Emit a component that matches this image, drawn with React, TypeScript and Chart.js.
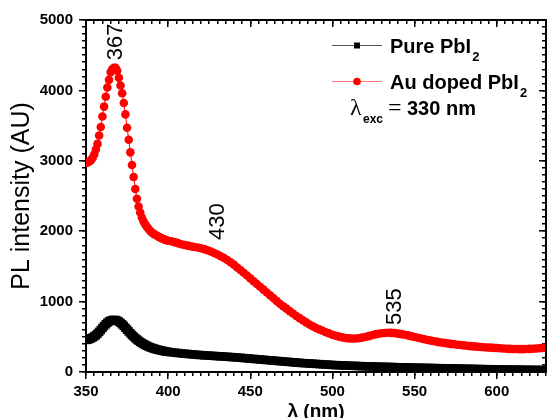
import { useEffect, useRef } from "react";
import { Chart, registerables } from "chart.js";

Chart.register(...registerables);

// Wavelength (nm)
const WAVELENGTH = [
  350, 351, 352, 353, 354, 355, 356, 357, 358, 359,
  360, 361, 362, 363, 364, 365, 366, 367, 368, 369,
  370, 371, 372, 373, 374, 375, 376, 377, 378, 379,
  380, 381, 382, 383, 384, 385, 386, 387, 388, 389,
  390, 391, 392, 393, 394, 395, 396, 397, 398, 399,
  400,
  402, 404, 406, 408, 410, 412, 414, 416, 418, 420,
  422, 424, 426, 428, 430, 432, 434, 436, 438, 440,
  442, 444, 446, 448, 450, 452, 454, 456, 458, 460,
  462, 464, 466, 468, 470, 472, 474, 476, 478, 480,
  482, 484, 486, 488, 490, 492, 494, 496, 498, 500,
  502, 504, 506, 508, 510, 512, 514, 516, 518, 520,
  522, 524, 526, 528, 530, 532, 534, 536, 538, 540,
  542, 544, 546, 548, 550, 552, 554, 556, 558, 560,
  562, 564, 566, 568, 570, 572, 574, 576, 578, 580,
  582, 584, 586, 588, 590, 592, 594, 596, 598, 600,
  602, 604, 606, 608, 610, 612, 614, 616, 618, 620,
  622, 624, 626, 628, 630,
];

// Pure PbI2 PL intensity (AU)
const PURE_PBI2 = [
  455, 460, 468, 478, 490, 505, 522, 545, 570, 597,
  625, 652, 678, 700, 718, 730, 737, 740, 738, 730,
  716, 698, 677, 654, 628, 602, 576, 550, 526, 503,
  482, 462, 444, 427, 412, 398, 385, 373, 362, 352,
  343, 335, 328, 321, 315, 309, 304, 299, 294, 290,
  286,
  280, 275, 270, 265, 260, 256, 252, 248, 244, 240,
  237, 234, 231, 228, 225, 222, 219, 216, 213, 210,
  206, 202, 198, 194, 190, 186, 182, 178, 174, 170,
  166, 162, 158, 154, 150, 146, 142, 138, 134, 130,
  127, 124, 121, 118, 115, 112, 109, 106, 103, 100,
  98, 96, 94, 92, 90, 88, 86, 85, 83, 82,
  80, 79, 77, 76, 75, 73, 72, 71, 70, 68,
  67, 66, 65, 63, 62, 61, 60, 59, 58, 57,
  56, 55, 54, 53, 52, 51, 50, 49, 48, 47,
  46, 45, 44, 43, 42, 41, 40, 40, 39, 38,
  37, 36, 36, 35, 34, 33, 33, 32, 31, 31,
  30, 30, 29, 29, 28,
];

// Au doped PbI2 PL intensity (AU)
const AU_DOPED_PBI2 = [
  2970, 2975, 2990, 3010, 3040, 3090, 3160, 3240, 3360, 3480,
  3630, 3770, 3910, 4040, 4150, 4260, 4300, 4320, 4320, 4280,
  4180, 4070, 3960, 3820, 3660, 3470, 3300, 3120, 2940, 2770,
  2600, 2460, 2350, 2265, 2195, 2140, 2100, 2065, 2035, 2005,
  1985, 1965, 1950, 1938, 1925, 1912, 1900, 1890, 1880, 1872,
  1865,
  1858, 1845, 1830, 1815, 1805, 1795, 1785, 1775, 1768, 1758,
  1745, 1730, 1712, 1690, 1668, 1645, 1620, 1590, 1560, 1525,
  1485, 1448, 1410, 1370, 1330, 1290, 1250, 1210, 1170, 1130,
  1090, 1050, 1010, 970, 935, 900, 865, 830, 795, 765,
  735, 705, 675, 650, 625, 605, 585, 565, 548, 530,
  515, 503, 492, 483, 477, 475, 476, 480, 488, 498,
  510, 522, 534, 543, 550, 555, 557, 556, 552, 545,
  538, 530, 520, 510, 498, 487, 476, 465, 455, 445,
  436, 428, 420, 413, 406, 400, 394, 388, 383, 378,
  373, 368, 364, 360, 356, 352, 349, 346, 343, 340,
  337, 334, 331, 329, 327, 326, 325, 325, 326, 328,
  331, 334, 338, 343, 348,
];

const SERIES_LABELS = ["Pure PbI", "Au doped PbI"];
const SERIES_SUBSCRIPTS = ["2", "2"];

const PEAK_LABELS = ["367", "430", "535"];
const PEAK_X = [368, 430.5, 538];
const PEAK_Y = [4430, 1875, 668];

const X_MIN = 350;
const X_MAX = 630;
const X_MAJOR = 50;
const X_MINOR = 5;
const Y_MIN = 0;
const Y_MAX = 5000;
const Y_MAJOR = 1000;
const Y_MINOR = 100;

const SANS = "'Liberation Sans', Arial, Helvetica, sans-serif";
const SERIF = "'Liberation Serif', 'Times New Roman', serif";

const annotationPlugin = {
  id: "annotations",
  afterDraw(chart: any) {
    const ctx = chart.ctx;
    const xs = chart.scales.x;
    const ys = chart.scales.y;
    ctx.save();

    // frame: top and right axis lines
    const l = xs.left;
    const r = xs.right;
    const t = ys.top;
    const b = ys.bottom;
    ctx.strokeStyle = "#000000";
    ctx.lineWidth = 2;
    ctx.beginPath();
    ctx.moveTo(l, t);
    ctx.lineTo(r, t);
    ctx.moveTo(r, t);
    ctx.lineTo(r, b);
    ctx.stroke();

    ctx.fillStyle = "#000";

    // peak labels (rotated)
    ctx.font = `22px ${SANS}`;
    ctx.textAlign = "left";
    ctx.textBaseline = "middle";
    for (let i = 0; i < PEAK_LABELS.length; i++) {
      const px = xs.getPixelForValue(PEAK_X[i]);
      const py = ys.getPixelForValue(PEAK_Y[i]);
      ctx.save();
      ctx.translate(px, py);
      ctx.rotate(-Math.PI / 2);
      ctx.fillText(PEAK_LABELS[i], 0, 0);
      ctx.restore();
    }

    // legend
    ctx.textBaseline = "alphabetic";
    const sets = chart.data.datasets;
    for (let i = 0; i < sets.length; i++) {
      const ds = sets[i];
      const y = 45 + i * 36;
      ctx.fillStyle = i === 0 ? "#555" : "rgba(255,70,70,0.75)";
      ctx.fillRect(332, y, 50, 1);
      ctx.fillStyle = ds.pointBackgroundColor;
      if (i === 0) {
        ctx.fillRect(354, y - 2.5, 6, 6);
      } else {
        ctx.beginPath();
        ctx.arc(357, y + 0.5, 3.8, 0, Math.PI * 2);
        ctx.fill();
      }
      ctx.fillStyle = "#000";
      ctx.font = `bold 20px ${SANS}`;
      ctx.fillText(SERIES_LABELS[i], 390, y + 8);
      const w = ctx.measureText(SERIES_LABELS[i]).width;
      ctx.font = `bold 13px ${SANS}`;
      ctx.fillText(SERIES_SUBSCRIPTS[i], 390 + w + 1, y + 16);
    }

    // excitation wavelength
    ctx.font = `24px ${SERIF}`;
    ctx.fillText("λ", 350, 115);
    ctx.font = `bold 12px ${SANS}`;
    ctx.fillText("exc", 363, 123);
    ctx.font = `24px ${SERIF}`;
    ctx.fillText("=", 388, 115);
    ctx.font = `bold 20px ${SANS}`;
    ctx.fillText("330 nm", 407, 115);
    ctx.restore();
  },
};

// an extra, label-less axis used only to draw tick marks / frame lines
function tickAxis(
  axis: "x" | "y",
  position: string,
  step: number,
  tickLength: number,
  weight: number,
  showBorder: boolean
) {
  const horizontal = axis === "x";
  return {
    type: "linear",
    axis,
    position,
    weight,
    min: horizontal ? X_MIN : Y_MIN,
    max: horizontal ? X_MAX : Y_MAX,
    afterFit: (s: any) => {
      if (horizontal) s.height = 0;
      else s.width = 0;
    },
    ticks: { display: false, stepSize: step, includeBounds: false },
    grid: {
      display: true,
      drawOnChartArea: false,
      drawTicks: true,
      tickLength,
      tickColor: "#000",
      tickWidth: 1.5,
      color: "#000",
      lineWidth: 1.5,
    },
    border: { display: showBorder, color: "#000", width: 2 },
  };
}

export default function App() {
  const ref = useRef<HTMLCanvasElement | null>(null);

  useEffect(() => {
    if (!ref.current) return;
    const pure = WAVELENGTH.map((x, i) => ({ x, y: PURE_PBI2[i] }));
    const doped = WAVELENGTH.map((x, i) => ({ x, y: AU_DOPED_PBI2[i] }));
    const tickFont = { family: SANS, size: 15, weight: "bold" as const };
    const chart = new Chart(ref.current, {
      type: "line",
      data: {
        datasets: [
          {
            label: "Pure PbI2",
            data: pure,
            xAxisID: "x",
            yAxisID: "y",
            borderColor: "#000",
            borderWidth: 1,
            backgroundColor: "#000",
            pointBackgroundColor: "#000",
            pointBorderColor: "#000",
            pointBorderWidth: 0,
            pointStyle: "rect",
            pointRadius: 6,
          },
          {
            label: "Au doped PbI2",
            data: doped,
            xAxisID: "x",
            yAxisID: "y",
            borderColor: "#ff0000",
            borderWidth: 1,
            backgroundColor: "#ff0000",
            pointBackgroundColor: "#ff0000",
            pointBorderColor: "#ff0000",
            pointBorderWidth: 0,
            pointStyle: "circle",
            pointRadius: 4.3,
          },
        ],
      },
      options: {
        animation: false,
        responsive: false,
        devicePixelRatio: 1,
        layout: { padding: { left: 0, right: 2, top: 20, bottom: 0 } },
        plugins: {
          legend: { display: false },
          tooltip: { enabled: false },
        },
        scales: {
          x: {
            type: "linear",
            position: "bottom",
            min: X_MIN,
            max: X_MAX,
            afterFit: (s: any) => {
              s.height = 46;
            },
            ticks: {
              stepSize: X_MINOR,
              autoSkip: false,
              includeBounds: false,
              padding: 7,
              color: "#000",
              font: tickFont,
              maxRotation: 0,
              callback: (v: any) => (Number(v) % X_MAJOR === 0 ? String(v) : ""),
            },
            grid: {
              drawOnChartArea: false,
              tickLength: 4,
              color: "#000",
              lineWidth: 1.5,
            },
            border: { color: "#000", width: 2 },
            title: {
              display: true,
              text: "λ (nm)",
              color: "#000",
              font: { family: SANS, size: 19, weight: "bold" },
              padding: { top: 0, bottom: -5 },
            },
          },
          xBottomMajor: tickAxis("x", "bottom", X_MAJOR, 7, -1, false),
          xTop: tickAxis("x", "top", X_MINOR, -4, 0, true),
          xTopMajor: tickAxis("x", "top", X_MAJOR, -7, -1, false),
          y: {
            type: "linear",
            position: "left",
            min: Y_MIN,
            max: Y_MAX,
            afterFit: (s: any) => {
              s.width = 86;
            },
            ticks: {
              stepSize: Y_MINOR,
              autoSkip: false,
              padding: 9,
              color: "#000",
              font: tickFont,
              callback: (v: any) => (Number(v) % Y_MAJOR === 0 ? String(v) : ""),
            },
            grid: {
              drawOnChartArea: false,
              tickLength: 4,
              color: "#000",
              lineWidth: 1.5,
            },
            border: { color: "#000", width: 2 },
            title: {
              display: true,
              text: "PL intensity (AU)",
              color: "#000",
              font: { family: SANS, size: 25 },
              padding: { top: 7, bottom: 0 },
            },
          },
          yLeftMajor: tickAxis("y", "left", Y_MAJOR, 7, -1, false),
          yRight: tickAxis("y", "right", Y_MINOR, -4, 0, true),
          yRightMajor: tickAxis("y", "right", Y_MAJOR, -7, -1, false),
        } as any,
      },
      plugins: [annotationPlugin],
    });
    return () => chart.destroy();
  }, []);

  return (
    <div
      style={{
        position: "fixed",
        left: 0,
        top: 0,
        width: 550,
        height: 418,
        overflow: "hidden",
        background: "#fff",
      }}
    >
      <canvas ref={ref} width={553} height={418} style={{ display: "block" }} />
    </div>
  );
}
